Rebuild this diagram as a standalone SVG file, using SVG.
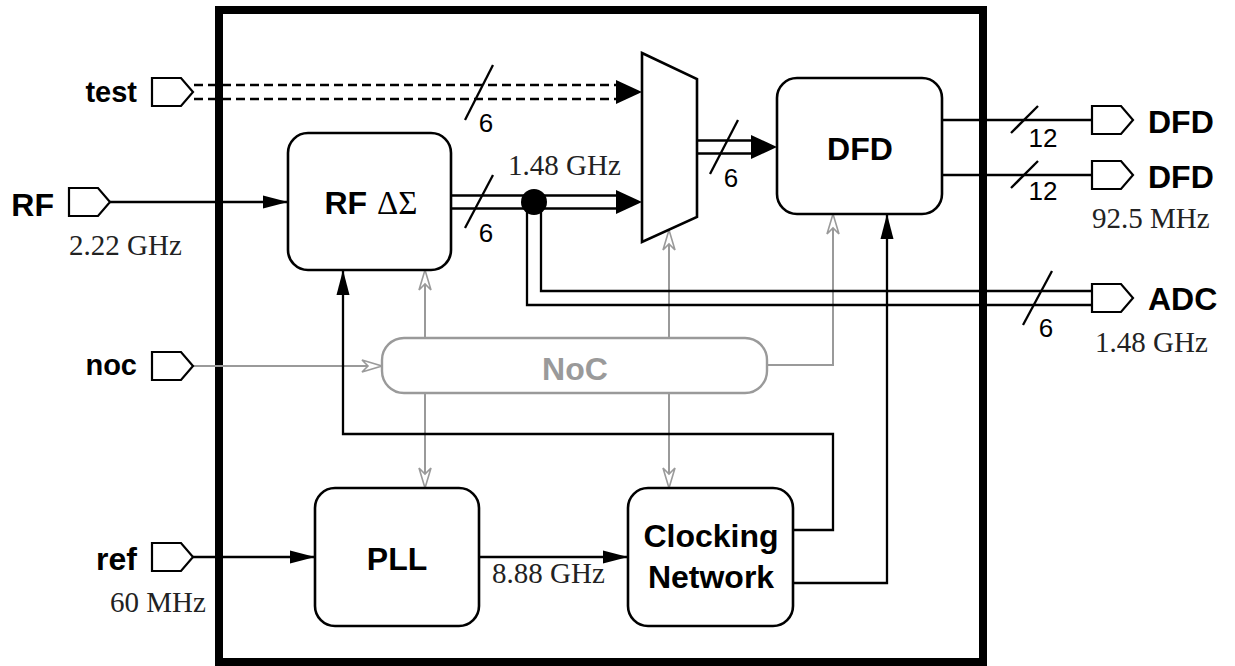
<svg xmlns="http://www.w3.org/2000/svg" xmlns:xlink="http://www.w3.org/1999/xlink" width="1235" height="666" viewBox="0 0 1235 666">
<style>
.box{fill:#fff;stroke:#000;stroke-width:2.6}
.gbox{fill:#fff;stroke:#9a9a9a;stroke-width:2.4}
.ln{fill:none;stroke:#000;stroke-width:2.3}
.gl{fill:none;stroke:#9a9a9a;stroke-width:2}
.dash{fill:none;stroke:#000;stroke-width:2.3;stroke-dasharray:9 5}
.ah{fill:#000;stroke:none}
.port{fill:#fff;stroke:#000;stroke-width:2.2}
.lbl{font-family:"Liberation Sans",Arial,sans-serif;font-weight:bold;font-size:32px;fill:#000}
.sm{font-size:29px}
.num{font-family:"Liberation Sans",Arial,sans-serif;font-size:26px;fill:#000;text-anchor:middle}
.freq{font-family:"Liberation Serif","Times New Roman",serif;font-size:29px;fill:#222}
</style>
<defs>
<path id="port" class="port" d="M0,-14 H29 L41,0 L29,14 H0 Z"/>
<marker id="ab" markerWidth="26" markerHeight="14" refX="25" refY="7" orient="auto" markerUnits="userSpaceOnUse"><path d="M0,0.5 L25,7 L0,13.5 Z" fill="#000"/></marker>
<marker id="ag" markerWidth="24" markerHeight="16" refX="22" refY="8" orient="auto" markerUnits="userSpaceOnUse"><path d="M2,2 L22,8 L2,14 L8,8 Z" fill="#fff" stroke="#9a9a9a" stroke-width="1.6" stroke-linejoin="miter"/></marker>
</defs>
<rect width="1235" height="666" fill="#fff"/>
<rect id="frame" x="219" y="10" width="764" height="652" fill="none" stroke="#000" stroke-width="8"/>

<g id="connectors">
  <!-- gray NoC links -->
  <path class="gl" d="M193,366 H382" marker-end="url(#ag)"/>
  <path class="gl" d="M425,338 V270" marker-end="url(#ag)"/>
  <path class="gl" d="M425,393 V488" marker-end="url(#ag)"/>
  <path class="gl" d="M669,338 V230" marker-end="url(#ag)"/>
  <path class="gl" d="M669,393 V488" marker-end="url(#ag)"/>
  <path class="gl" d="M767,365 H833 V214" marker-end="url(#ag)"/>
  <!-- test bus -->
  <path class="dash" d="M194,85 H617 M194,99 H617"/>
  <polygon class="ah" points="616,80 642,92 616,104"/>
  <line class="ln" x1="465" y1="120" x2="493" y2="65"/>
  <text class="num" x="486" y="132">6</text>
  <!-- RF input -->
  <path class="ln" d="M110,202 H288" marker-end="url(#ab)"/>
  <!-- RF delta-sigma bus -->
  <path class="ln" d="M451,195.5 H618 M451,208.5 H618"/>
  <polygon class="ah" points="616,190 642,202 616,214"/>
  <line class="ln" x1="465" y1="228" x2="493" y2="175"/>
  <text class="num" x="486" y="242">6</text>
  <text class="freq" x="508" y="175">1.48 GHz</text>
  <!-- ADC bus -->
  <path class="ln" d="M541,202 V291 H1092"/>
  <path class="ln" d="M527,202 V305 H1092"/>
  <circle cx="534" cy="202" r="13" fill="#000"/>
  <line class="ln" x1="1023" y1="325" x2="1052" y2="271"/>
  <text class="num" x="1046" y="337">6</text>
  <!-- mux output -->
  <path class="ln" d="M697,140.5 H753 M697,153.5 H753"/>
  <polygon class="ah" points="751,135 777,147 751,159"/>
  <line class="ln" x1="710" y1="174" x2="738" y2="120"/>
  <text class="num" x="731" y="187">6</text>
  <!-- DFD outputs -->
  <path class="ln" d="M942,120 H1092 M942,175 H1092"/>
  <line class="ln" x1="1011" y1="133" x2="1038" y2="106"/>
  <line class="ln" x1="1011" y1="188" x2="1038" y2="161"/>
  <text class="num" x="1043" y="147">12</text>
  <text class="num" x="1043" y="200">12</text>
  <!-- ref -> PLL -->
  <path class="ln" d="M193,557 H315" marker-end="url(#ab)"/>
  <!-- PLL -> Clocking -->
  <path class="ln" d="M479,557 H628" marker-end="url(#ab)"/>
  <text class="freq" x="492" y="583">8.88 GHz</text>
  <!-- Clocking -> RF delta-sigma -->
  <path class="ln" d="M793,530 H833 V434 H343 V270" marker-end="url(#ab)"/>
  <!-- Clocking -> DFD -->
  <path class="ln" d="M793,583 H887 V214" marker-end="url(#ab)"/>
</g>

<g id="port-test">
  <use xlink:href="#port" href="#port" x="152" y="92"/>
  <text class="lbl sm" x="137" y="102" text-anchor="end">test</text>
</g>
<g id="port-rf">
  <use xlink:href="#port" href="#port" x="69" y="202"/>
  <text class="lbl" x="54" y="216" text-anchor="end">RF</text>
  <text class="freq" x="69" y="255">2.22 GHz</text>
</g>
<g id="port-noc">
  <use xlink:href="#port" href="#port" x="152" y="366"/>
  <text class="lbl sm" x="137" y="375" text-anchor="end">noc</text>
</g>
<g id="port-ref">
  <use xlink:href="#port" href="#port" x="152" y="557"/>
  <text class="lbl" x="137" y="570" text-anchor="end">ref</text>
  <text class="freq" x="110" y="612">60 MHz</text>
</g>
<g id="port-dfd1">
  <use xlink:href="#port" href="#port" x="1092" y="120"/>
  <text class="lbl" x="1148" y="133">DFD</text>
</g>
<g id="port-dfd2">
  <use xlink:href="#port" href="#port" x="1092" y="175"/>
  <text class="lbl" x="1148" y="188">DFD</text>
  <text class="freq" x="1092" y="228">92.5 MHz</text>
</g>
<g id="port-adc">
  <use xlink:href="#port" href="#port" x="1092" y="298"/>
  <text class="lbl" x="1148" y="310">ADC</text>
  <text class="freq" x="1095" y="352">1.48 GHz</text>
</g>

<g id="rf-delta-sigma">
  <rect class="box" x="288" y="133" width="163" height="137" rx="20"/>
  <text x="371" y="214" text-anchor="middle"><tspan class="lbl">RF</tspan><tspan dx="10" font-family="'Liberation Serif','Times New Roman',serif" font-size="33">ΔΣ</tspan></text>
</g>
<g id="mux">
  <polygon class="box" points="642,53 697,79 697,217 642,242"/>
</g>
<g id="dfd">
  <rect class="box" x="777" y="78" width="165" height="136" rx="20"/>
  <text class="lbl" x="860" y="160" text-anchor="middle">DFD</text>
</g>
<g id="noc">
  <rect class="gbox" x="382" y="338" width="385" height="55" rx="22"/>
  <text class="lbl" x="575" y="380" text-anchor="middle" style="fill:#9a9a9a">NoC</text>
</g>
<g id="pll">
  <rect class="box" x="315" y="488" width="164" height="138" rx="20"/>
  <text class="lbl" x="397" y="570" text-anchor="middle">PLL</text>
</g>
<g id="clocking">
  <rect class="box" x="628" y="488" width="165" height="138" rx="20"/>
  <text class="lbl" x="711" y="547" text-anchor="middle">Clocking</text>
  <text class="lbl" x="711" y="588" text-anchor="middle">Network</text>
</g>
</svg>
